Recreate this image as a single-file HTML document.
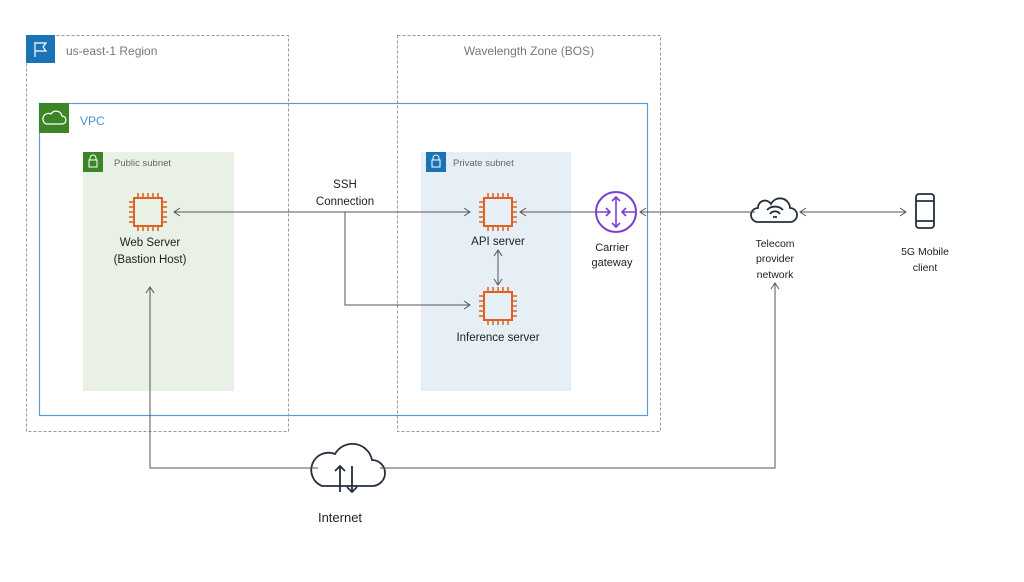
<!DOCTYPE html>
<html><head><style>body{margin:0;background:#fff}svg{display:block}text{font-family:"Liberation Sans",sans-serif}</style></head><body>
<svg width="1024" height="582" viewBox="0 0 1024 582" xmlns="http://www.w3.org/2000/svg">
<defs>
<marker id="a" markerWidth="10" markerHeight="10" refX="8" refY="5" orient="auto-start-reverse" markerUnits="userSpaceOnUse"><path d="M2,1 L8,5 L2,9" fill="none" stroke="#555" stroke-width="1"/></marker>
<g id="chip" fill="none" stroke="#e0601f" stroke-width="2">
<rect x="-14" y="-14" width="28" height="28"/>
<path d="M-10,-14v-5M-5,-14v-5M0,-14v-5M5,-14v-5M10,-14v-5M-10,14v5M-5,14v5M0,14v5M5,14v5M10,14v5M-14,-10h-5M-14,-5h-5M-14,0h-5M-14,5h-5M-14,10h-5M14,-10h5M14,-5h5M14,0h5M14,5h5M14,10h5" stroke-width="1.5"/>
</g>
</defs>
<rect x="26.5" y="35.5" width="262" height="396" fill="none" stroke="#999" stroke-dasharray="3,2"/>
<rect x="397.5" y="35.5" width="263" height="396" fill="none" stroke="#999" stroke-dasharray="3,2"/>
<rect x="26" y="35" width="29" height="28" fill="#1a73b5"/>
<path d="M35,42v15M35,43h11l-3,4 3,4h-11" fill="none" stroke="#fff" stroke-width="1.2"/>
<text x="66" y="55" font-size="12" fill="#777">us-east-1 Region</text>
<text x="529" y="55" font-size="12" fill="#777" text-anchor="middle">Wavelength Zone (BOS)</text>
<rect x="39.5" y="103.5" width="608" height="312" fill="none" stroke="#5b9bd5" stroke-width="1.2"/>
<rect x="39" y="103" width="30" height="30" fill="#3b8527"/>
<path d="M46,124h16a4,4 0 0 0 0-8a6,6 0 0 0-11-2a4,4 0 0 0-5,10z" fill="none" stroke="#fff" stroke-width="1.2"/>
<text x="80" y="125" font-size="12" fill="#4a90d9">VPC</text>
<rect x="83" y="152" width="151" height="239" fill="#e9f1e7"/>
<rect x="83" y="152" width="20" height="20" fill="#3b8527"/>
<rect x="89" y="160" width="8" height="7" fill="none" stroke="#fff"/><path d="M90,160v-2a3,3 0 0 1 6,0v2" fill="none" stroke="#fff"/>
<text x="114" y="166" font-size="9.5" fill="#666">Public subnet</text>
<rect x="421" y="152" width="150" height="239" fill="#e6eff6"/>
<rect x="426" y="152" width="20" height="20" fill="#1a73b5"/>
<rect x="432" y="160" width="8" height="7" fill="none" stroke="#fff"/><path d="M433,160v-2a3,3 0 0 1 6,0v2" fill="none" stroke="#fff"/>
<text x="453" y="166" font-size="9.5" fill="#666">Private subnet</text>
<use href="#chip" x="148" y="212"/>
<use href="#chip" x="498" y="212"/>
<use href="#chip" x="498" y="306"/>
<g font-size="11.5" fill="#222" text-anchor="middle">
<text x="150" y="246">Web Server</text><text x="150" y="263">(Bastion Host)</text>
<text x="498" y="245">API server</text>
<text x="498" y="341">Inference server</text>
<text x="345" y="188">SSH</text><text x="345" y="205">Connection</text>
<text x="612" y="251" font-size="11">Carrier</text><text x="612" y="266" font-size="11">gateway</text>
<text x="775" y="247" font-size="10.5">Telecom</text><text x="775" y="262" font-size="10.5">provider</text><text x="775" y="278" font-size="10.5">network</text>
<text x="925" y="255" font-size="10.5">5G Mobile</text><text x="925" y="271" font-size="10.5">client</text>
<text x="340" y="522" font-size="13">Internet</text>
</g>
<circle cx="616" cy="212" r="20" fill="none" stroke="#7a3fd1" stroke-width="2"/>
<g stroke="#7a3fd1" stroke-width="1.6" fill="none"><path d="M616,197v30M612,201l4-4 4,4M612,223l4,4 4-4M597,212h13M606,208l4,4-4,4M635,212h-13M626,208l-4,4 4,4"/></g>
<g fill="none" stroke="#232f3e" stroke-width="1.8">
<path d="M758,222h32a7,7 0 0 0 0-14a10,10 0 0 0-19-4a7,7 0 0 0-13,4a7,7 0 0 0 0,14z"/>
<path d="M767,210a11,11 0 0 1 16,0M770,214a6,6 0 0 1 10,0M773,217h4"/>
<rect x="916" y="194" width="18" height="34" rx="3"/><path d="M916,201h18M916,221h18"/>
<path d="M322,486h50a13,13 0 0 0 0-26a20,20 0 0 0-37-6a13,13 0 0 0-13,32z"/>
<path d="M340,492v-26M335,471l5-5 5,5M352,466v26M347,487l5,5 5-5"/>
</g>
<g fill="none" stroke="#555" stroke-width="1">
<path d="M174,212H470" marker-start="url(#a)" marker-end="url(#a)"/>
<path d="M345,212V305H470" marker-end="url(#a)"/>
<path d="M596,212H520" marker-end="url(#a)"/>
<path d="M755,212H640" marker-end="url(#a)"/>
<path d="M498,250V285" marker-start="url(#a)" marker-end="url(#a)"/>
<path d="M800,212H906" marker-start="url(#a)" marker-end="url(#a)"/>
<path d="M318,468H150V287" marker-end="url(#a)"/>
<path d="M380,468H775V283" marker-end="url(#a)"/>
</g>
</svg>
</body></html>
